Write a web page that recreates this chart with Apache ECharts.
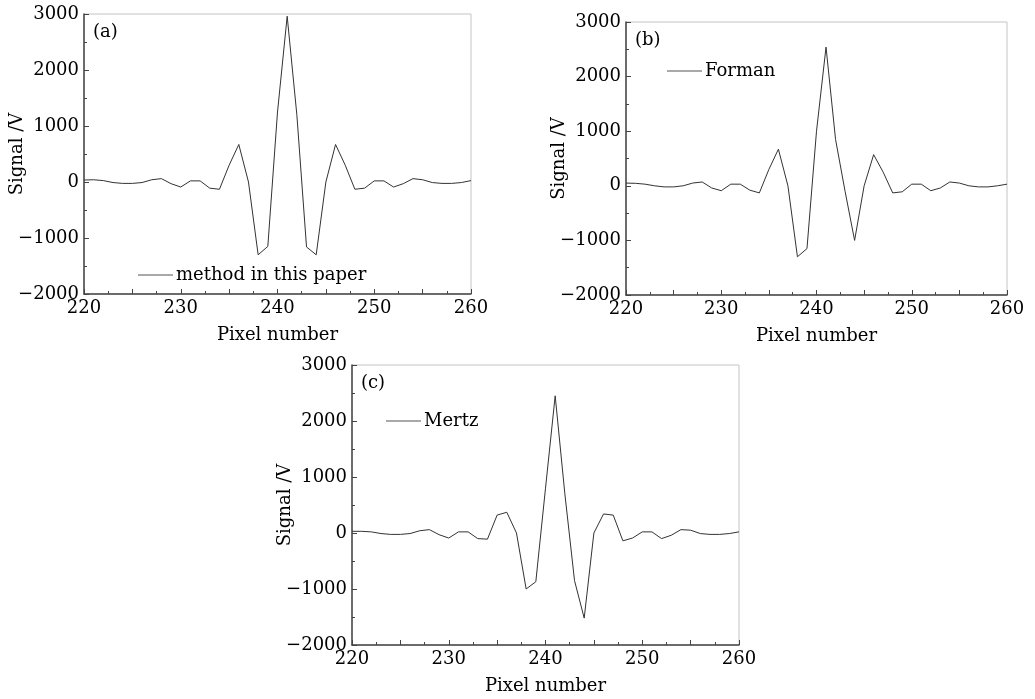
<!DOCTYPE html>
<html>
<head>
<meta charset="utf-8">
<script src="https://cdn.jsdelivr.net/npm/echarts@6/dist/echarts.min.js"></script>
<style>
  html, body { margin: 0; padding: 0; background: #fff; }
  #chart { width: 1035px; height: 699px; }
</style>
</head>
<body>
<div id="chart"></div>
<script>
// pixel positions along the detector
var pixels = [220, 221, 222, 223, 224, 225, 226, 227, 228, 229,
              230, 231, 232, 233, 234, 235, 236, 237, 238, 239,
              240, 241, 242, 243, 244, 245, 246, 247, 248, 249,
              250, 251, 252, 253, 254, 255, 256, 257, 258, 259, 260];

// (a) method in this paper
var signalA = [35, 40, 25, -10, -25, -25, -10, 40, 60, -30,
               -90, 20, 20, -110, -130, 300, 670, 0, -1300, -1150,
               1250, 2960, 1200, -1160, -1300, 0, 670, 300, -130, -110,
               20, 20, -90, -30, 60, 40, -10, -25, -25, -10, 25];
// (b) Forman
var signalB = [50, 45, 30, 0, -20, -20, 0, 50, 70, -40,
               -90, 30, 30, -80, -130, 300, 670, 0, -1300, -1150,
               1000, 2540, 850, -100, -1000, 0, 570, 250, -130, -110,
               30, 30, -90, -40, 70, 50, 0, -20, -20, 0, 30];
// (c) Mertz
var signalC = [30, 30, 20, -10, -25, -25, -10, 40, 60, -30,
               -90, 20, 20, -100, -110, 320, 370, 0, -1000, -870,
               800, 2450, 700, -850, -1520, 0, 340, 320, -140, -90,
               20, 20, -100, -40, 60, 50, -10, -25, -25, -10, 20];

var panelNames = ['method in this paper', 'Forman', 'Mertz'];
var panelTags = ['(a)', '(b)', '(c)'];
var xTicks = {min: 220, max: 260, interval: 5};
var yTicks = {min: -2000, max: 3000, interval: 1000};

var FONT = 'DejaVu Serif';

function pairs(ys) {
  var out = [];
  for (var i = 0; i < pixels.length; i++) {
    out.push([pixels[i], ys[i]]);
  }
  return out;
}

function fmtY(v) {
  return v < 0 ? '\u2212' + Math.abs(v) : String(v);
}

var grids = [
  {left: 84, top: 14, width: 387, height: 280},
  {left: 626, top: 22, width: 381, height: 273},
  {left: 352, top: 365, width: 387, height: 280}
];
var legendPos = [
  {left: 133, top: 261},
  {left: 662, top: 57},
  {left: 381, top: 407}
];
var seriesData = [signalA, signalB, signalC];

var option = {
  backgroundColor: '#fff',
  animation: false,
  textStyle: {fontFamily: FONT, color: '#000'},
  grid: [], xAxis: [], yAxis: [], series: [], legend: [], title: []
};

for (var k = 0; k < 3; k++) {
  var g = grids[k];
  option.grid.push({
    left: g.left, top: g.top, width: g.width, height: g.height,
    show: true, borderColor: '#c4c4c4', borderWidth: 1, backgroundColor: 'transparent'
  });
  option.xAxis.push({
    type: 'value', gridIndex: k,
    min: xTicks.min, max: xTicks.max, interval: xTicks.interval,
    name: 'Pixel number', nameLocation: 'middle', nameGap: 32,
    nameTextStyle: {fontFamily: FONT, fontSize: 18, color: '#000'},
    axisLine: {onZero: false, lineStyle: {color: '#444', width: 1.5}},
    axisTick: {inside: true, length: 5, lineStyle: {color: '#444'}},
    minorTick: {show: true, splitNumber: 2, length: 3, lineStyle: {color: '#444'}},
    splitLine: {show: false},
    axisLabel: {
      fontFamily: FONT, fontSize: 18, color: '#000', margin: 5,
      formatter: function (v) { return v % 10 === 0 ? String(v) : ''; }
    }
  });
  option.yAxis.push({
    type: 'value', gridIndex: k,
    min: yTicks.min, max: yTicks.max, interval: yTicks.interval,
    name: 'Signal /V', nameLocation: 'middle', nameGap: 58, nameMoveOverlap: false,
    nameTextStyle: {fontFamily: FONT, fontSize: 18, color: '#000'},
    axisLine: {show: true, onZero: false, lineStyle: {color: '#444', width: 1.5}},
    axisTick: {inside: true, length: 5, lineStyle: {color: '#444'}},
    minorTick: {show: true, splitNumber: 2, length: 3, lineStyle: {color: '#444'}},
    splitLine: {show: false},
    axisLabel: {fontFamily: FONT, fontSize: 18, color: '#000', margin: 5, formatter: fmtY}
  });
  option.series.push({
    name: panelNames[k], type: 'line',
    xAxisIndex: k, yAxisIndex: k,
    data: pairs(seriesData[k]),
    showSymbol: false, symbol: 'none',
    lineStyle: {color: '#333', width: 1}, itemStyle: {color: '#555'}
  });
  option.legend.push({
    data: [panelNames[k]],
    left: legendPos[k].left, top: legendPos[k].top,
    icon: 'rect', itemWidth: 35, itemHeight: 1, itemGap: 4,
    textStyle: {fontFamily: FONT, fontSize: 18, color: '#000', padding: [0, 0, 0, -2]},
    selectedMode: false
  });
  option.title.push({
    text: panelTags[k],
    left: g.left + 4, top: g.top + 4,
    textStyle: {fontFamily: FONT, fontSize: 18, fontWeight: 'normal', color: '#000'}
  });
}

var chart = echarts.init(document.getElementById('chart'), null, {renderer: 'canvas'});
chart.setOption(option);
</script>
</body>
</html>
